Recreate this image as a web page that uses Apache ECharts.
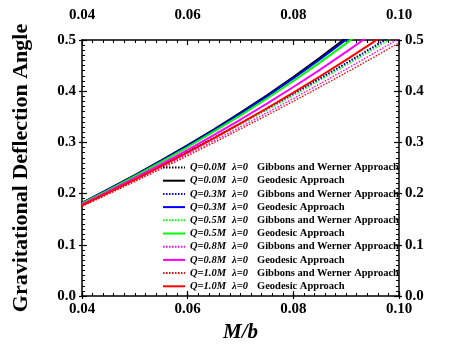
<!DOCTYPE html>
<html>
<head>
<meta charset="utf-8">
<script src="https://cdn.jsdelivr.net/npm/echarts@6/dist/echarts.min.js"></script>
<style>
html,body{margin:0;padding:0;background:#fff;}
#chart{width:464px;height:355px;}
</style>
</head>
<body>
<div id="chart"></div>
<script>
// x grid (M/b)
const xGrid = [0.04, 0.045, 0.05, 0.055, 0.06, 0.065, 0.07, 0.075, 0.08, 0.085, 0.09, 0.095, 0.10];

// Gibbons and Werner approach (dotted)
const gwQ00 = [0.1788, 0.2039, 0.2295, 0.2556, 0.2824, 0.3098, 0.3377, 0.3663, 0.3954, 0.4251, 0.4554, 0.4863, 0.5178];
const gwQ03 = [0.1785, 0.2034, 0.2289, 0.2550, 0.2816, 0.3089, 0.3367, 0.3651, 0.3940, 0.4236, 0.4537, 0.4844, 0.5157];
const gwQ05 = [0.1779, 0.2027, 0.2280, 0.2539, 0.2803, 0.3073, 0.3348, 0.3630, 0.3916, 0.4209, 0.4507, 0.4810, 0.5119];
const gwQ08 = [0.1764, 0.2008, 0.2257, 0.2511, 0.2770, 0.3034, 0.3303, 0.3578, 0.3857, 0.4142, 0.4432, 0.4727, 0.5027];
const gwQ10 = [0.1751, 0.1991, 0.2236, 0.2485, 0.2739, 0.2998, 0.3262, 0.3530, 0.3803, 0.4081, 0.4363, 0.4651, 0.4943];

// Geodesic approach (solid)
const geoQ00 = [0.1821, 0.2086, 0.2361, 0.2647, 0.2945, 0.3257, 0.3581, 0.3921, 0.4277, 0.4651, 0.5043];
const geoQ03 = [0.1816, 0.2080, 0.2353, 0.2637, 0.2933, 0.3242, 0.3562, 0.3898, 0.4249, 0.4618, 0.5004, 0.5410];
const geoQ05 = [0.1808, 0.2069, 0.2339, 0.2619, 0.2910, 0.3214, 0.3528, 0.3857, 0.4200, 0.4559, 0.4934, 0.5327];
const geoQ08 = [0.1788, 0.2042, 0.2305, 0.2576, 0.2856, 0.3146, 0.3447, 0.3758, 0.4082, 0.4418, 0.4767, 0.5131];
const geoQ10 = [0.1770, 0.2018, 0.2273, 0.2536, 0.2806, 0.3084, 0.3371, 0.3667, 0.3972, 0.4287, 0.4613, 0.4950, 0.5299];

const xTicks = [0.04, 0.06, 0.08, 0.10];
const yTicks = [0.0, 0.1, 0.2, 0.3, 0.4, 0.5];

const qLabels = ['Q=0.0M', 'Q=0.3M', 'Q=0.5M', 'Q=0.8M', 'Q=1.0M'];
const lambdaLabel = 'λ=0';
const approachGW = 'Gibbons and Werner Approach';
const approachGeo = 'Geodesic Approach';
const colors = ['#000000', '#0000ff', '#00ff00', '#ff00ff', '#ff0000'];

const gwSets = [gwQ00, gwQ03, gwQ05, gwQ08, gwQ10];
const geoSets = [geoQ00, geoQ03, geoQ05, geoQ08, geoQ10];

const FONT = "'Liberation Serif', 'Times New Roman', serif";

function pairs(arr) { return arr.map((v, i) => [xGrid[i], v]); }

const series = [];
const nameInfo = {};
for (let k = 0; k < 5; k++) {
  const n1 = qLabels[k] + ' ' + lambdaLabel + ' ' + approachGW;
  nameInfo[n1] = [qLabels[k], approachGW];
  series.push({
    name: n1, type: 'line', data: pairs(gwSets[k]), symbol: 'none', showSymbol: false,
    clip: true, xAxisIndex: 0, yAxisIndex: 0,
    lineStyle: { color: colors[k], width: 1.4, type: [1.5, 1.5] },
    itemStyle: { color: colors[k] }
  });
  const n2 = qLabels[k] + ' ' + lambdaLabel + ' ' + approachGeo;
  nameInfo[n2] = [qLabels[k], approachGeo];
  series.push({
    name: n2, type: 'line', data: pairs(geoSets[k]), symbol: 'none', showSymbol: false,
    clip: true, xAxisIndex: 0, yAxisIndex: 0,
    lineStyle: { color: colors[k], width: 2, type: 'solid' },
    itemStyle: { color: colors[k] }
  });
}

const axisLabelStyle = { fontFamily: FONT, fontWeight: 'bold', fontSize: 15, color: '#000' };
const lineStyleAxis = { color: '#000', width: 1.5 };

function xAx(pos, showName) {
  return {
    type: 'value', position: pos, min: 0.04, max: 0.10, interval: 0.02, gridIndex: 0,
    axisLine: { show: true, onZero: false, lineStyle: lineStyleAxis },
    axisTick: { show: true, inside: true, length: 5, lineStyle: { color: '#000', width: 1.2 } },
    minorTick: { show: true, splitNumber: 10, length: 3, lineStyle: { color: '#000', width: 1 } },
    splitLine: { show: false }, minorSplitLine: { show: false },
    axisLabel: Object.assign({ margin: pos === 'top' ? 17 : 6, formatter: v => v.toFixed(2) }, axisLabelStyle),
    name: showName ? 'M/b' : '', nameLocation: 'middle', nameGap: 18,
    nameTextStyle: { fontFamily: FONT, fontWeight: 'bold', fontStyle: 'italic', fontSize: 21, color: '#000' }
  };
}
function yAx(pos, showName) {
  return {
    type: 'value', position: pos, min: 0, max: 0.5, interval: 0.1, gridIndex: 0,
    axisLine: { show: true, onZero: false, lineStyle: lineStyleAxis },
    axisTick: { show: true, inside: true, length: 5, lineStyle: { color: '#000', width: 1.2 } },
    minorTick: { show: true, splitNumber: 10, length: 3, lineStyle: { color: '#000', width: 1 } },
    splitLine: { show: false }, minorSplitLine: { show: false },
    axisLabel: Object.assign({ margin: 6, formatter: v => v.toFixed(1) }, axisLabelStyle),
    name: showName ? 'Gravitational Deflection Angle' : '', nameLocation: 'middle', nameGap: 50,
    nameTextStyle: { fontFamily: FONT, fontWeight: 'bold', fontSize: 22, color: '#000' }
  };
}
function outTicksX(pos) {
  return {
    type: 'value', position: pos, min: 0.04, max: 0.10, interval: 0.02, gridIndex: 0,
    axisLine: { show: false }, axisLabel: { show: false }, splitLine: { show: false },
    axisTick: { show: true, inside: false, length: 3, lineStyle: { color: '#000', width: 1.2 } }
  };
}
function outTicksY(pos) {
  return {
    type: 'value', position: pos, min: 0, max: 0.5, interval: 0.1, gridIndex: 0,
    axisLine: { show: false }, axisLabel: { show: false }, splitLine: { show: false },
    axisTick: { show: true, inside: false, length: 3, lineStyle: { color: '#000', width: 1.2 } }
  };
}

const chart = echarts.init(document.getElementById('chart'), null, { renderer: 'canvas' });
chart.setOption({
  animation: false,
  backgroundColor: '#fff',
  grid: { left: 82, right: 65, top: 40, bottom: 59, containLabel: false },
  xAxis: [xAx('bottom', true), xAx('top', false), outTicksX('bottom'), outTicksX('top')],
  yAxis: [yAx('left', true), yAx('right', false), outTicksY('left'), outTicksY('right')],
  legend: {
    orient: 'vertical', left: 162, top: 162, padding: 0,
    itemWidth: 22, itemHeight: 11, itemGap: 2.2, selectedMode: false,
    itemStyle: { opacity: 0, borderWidth: 0 },
    data: series.map(s => s.name),
    formatter: function (name) {
      const p = nameInfo[name];
      return '{i|' + p[0] + '}{l|' + lambdaLabel + '}{b|' + p[1] + '}';
    },
    textStyle: {
      fontFamily: FONT, fontSize: 10.5, color: '#000', lineHeight: 11,
      rich: {
        i: { fontFamily: FONT, fontSize: 10.5, fontWeight: 'bold', fontStyle: 'italic', color: '#000', width: 42 },
        l: { fontFamily: FONT, fontSize: 10.5, fontWeight: 'bold', fontStyle: 'italic', color: '#000', width: 25 },
        b: { fontFamily: FONT, fontSize: 10.5, fontWeight: 'bold', color: '#000' }
      }
    }
  },
  series: series
});
</script>
</body>
</html>
